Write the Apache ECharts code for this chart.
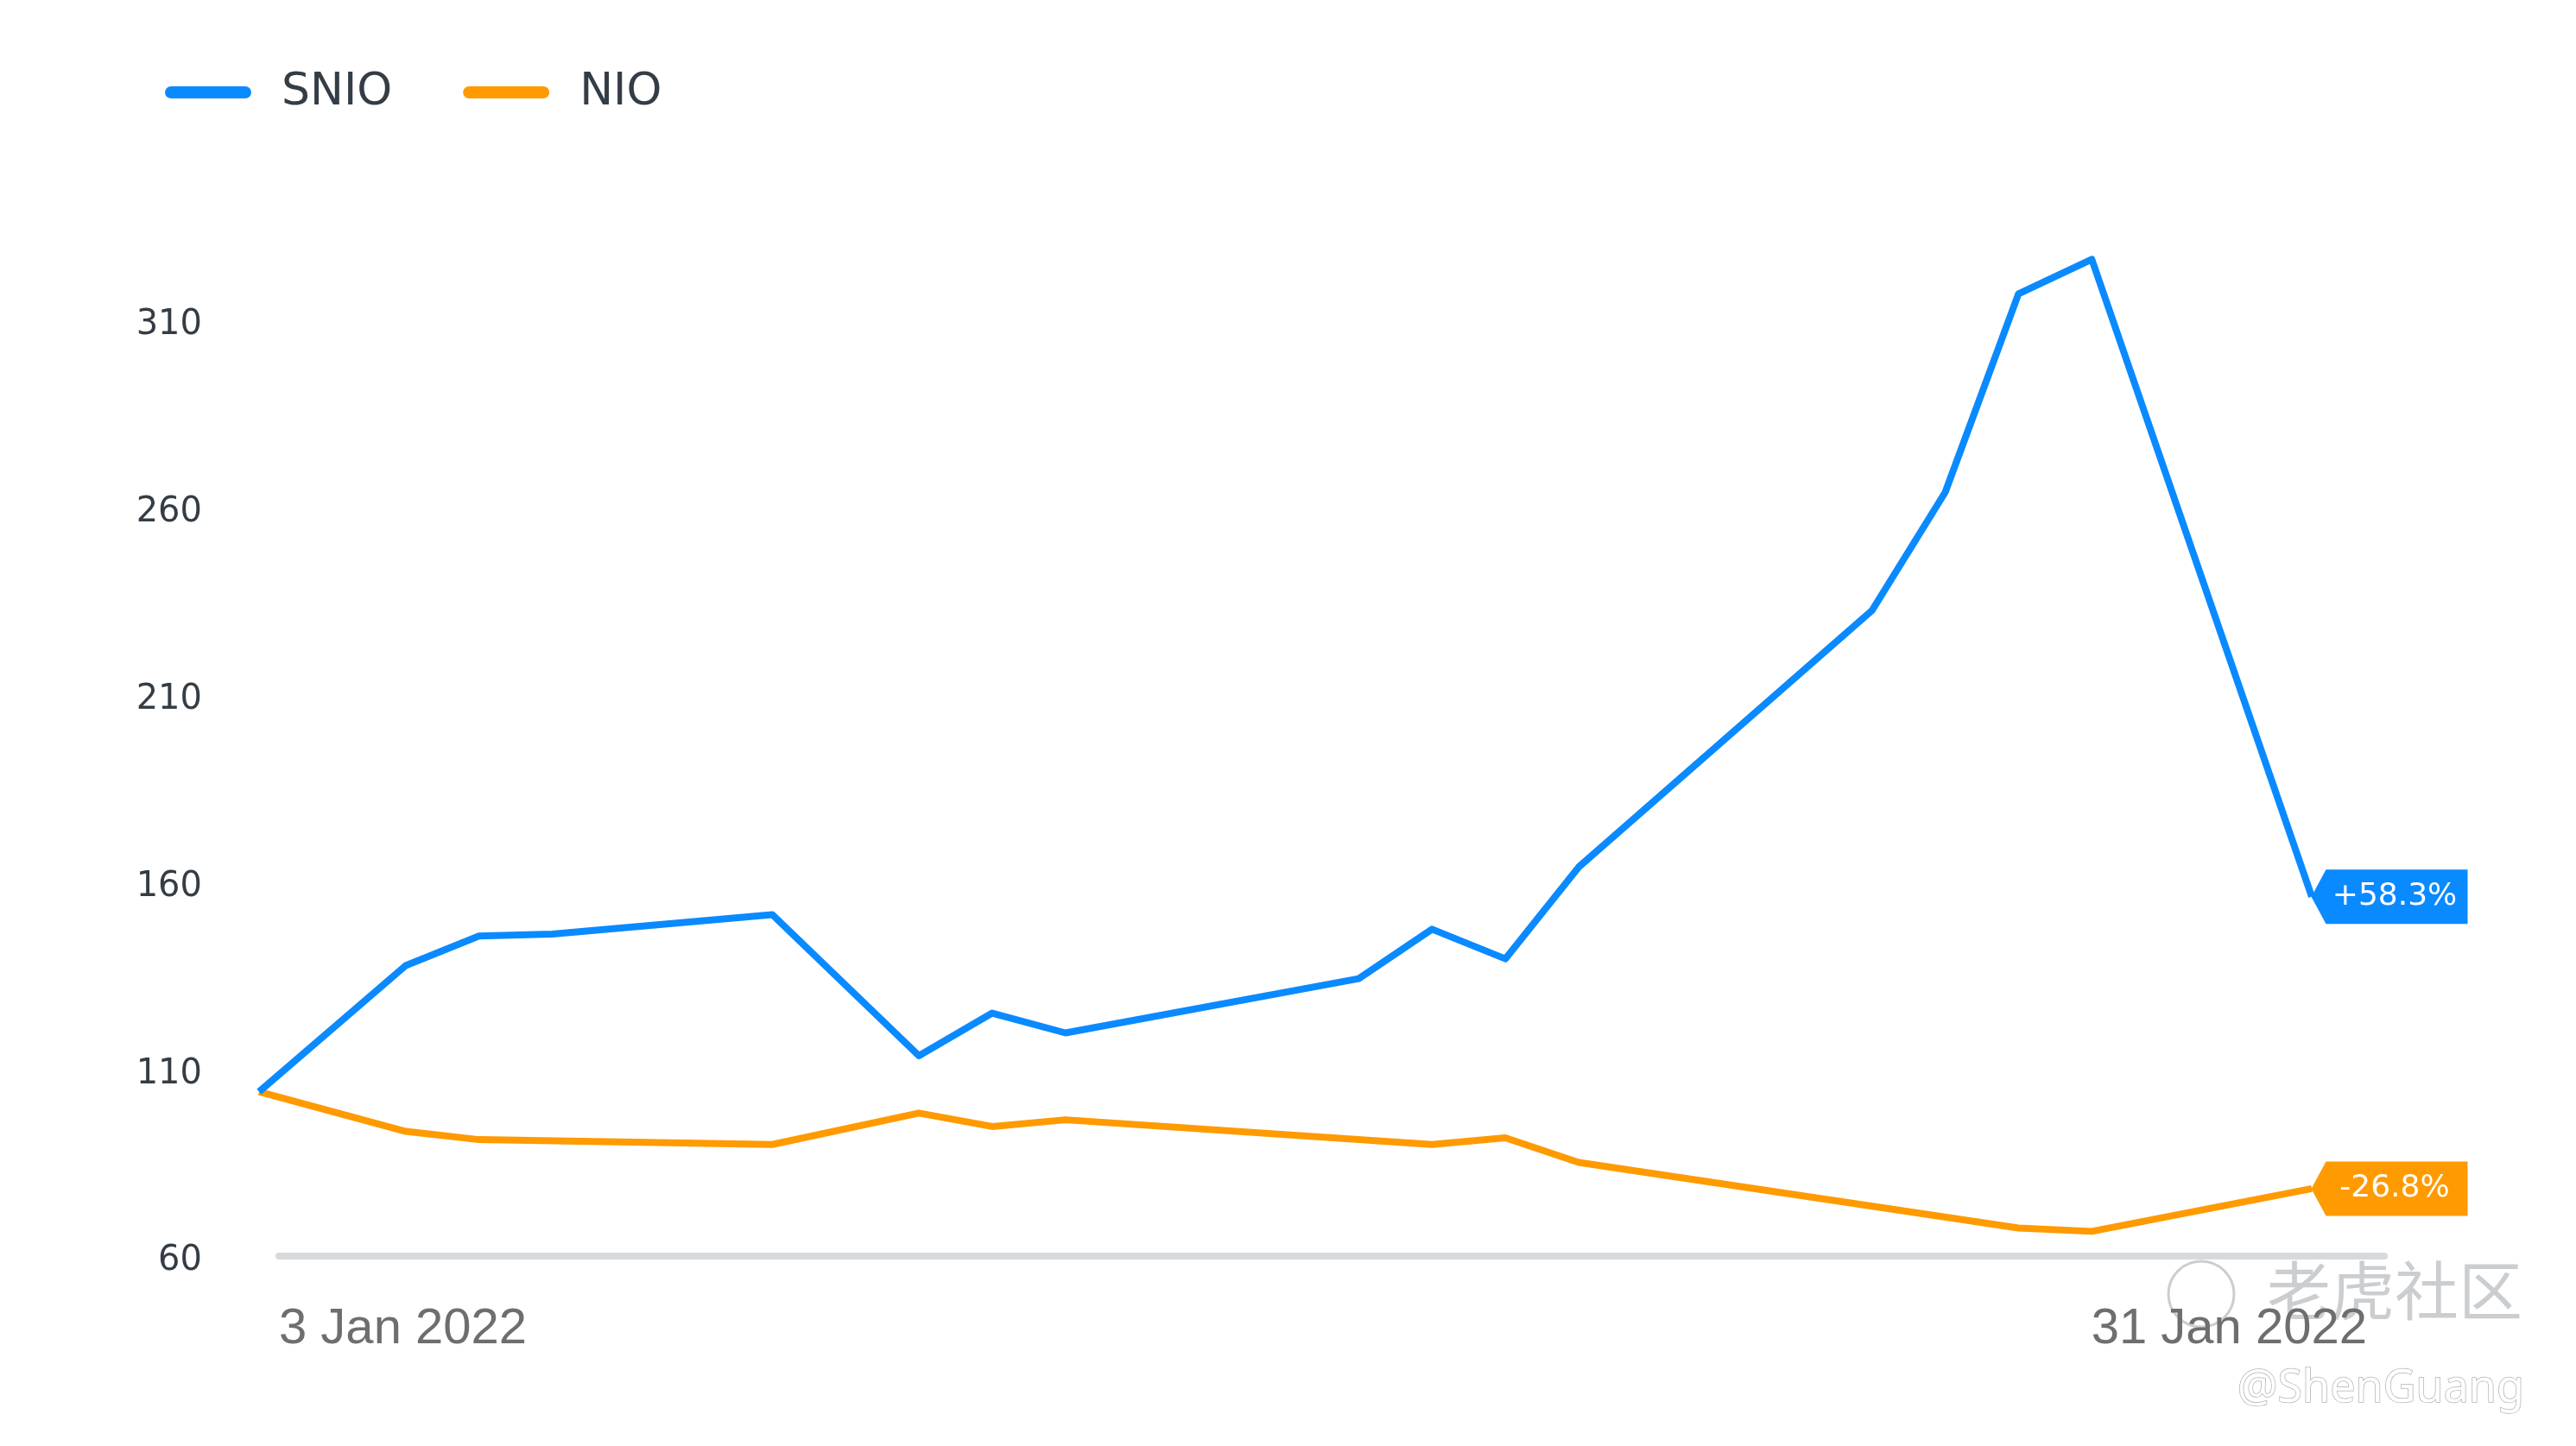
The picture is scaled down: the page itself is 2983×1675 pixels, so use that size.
<!DOCTYPE html>
<html>
<head>
<meta charset="utf-8">
<script src="https://cdn.jsdelivr.net/npm/echarts@6/dist/echarts.min.js"></script>
<style>
  html, body { margin: 0; padding: 0; background: #fff; }
  #chart { width: 2983px; height: 1675px; }
</style>
</head>
<body>
<div id="chart"></div>
<script>
// trading days that show a visible vertex on either line
var dates = ['2022-01-03', '2022-01-05', '2022-01-06', '2022-01-07', '2022-01-10',
  '2022-01-12', '2022-01-13', '2022-01-14', '2022-01-18', '2022-01-19',
  '2022-01-20', '2022-01-21', '2022-01-25', '2022-01-26', '2022-01-27',
  '2022-01-28', '2022-01-31'];
var snio = [103.9, 137.6, 145.5, 146, 151.2, 113.5, 124.9, 119.6, 134.1, 147.3,
  139.4, 163.9, 232.4, 264, 317, 326.2, 156];
var nio = [103.9, 93.3, 91.1, null, 89.8, 98.2, 94.6, 96.4, null, 89.8,
  91.6, 85.0, null, null, 67.5, 66.6, 78.0];
var seriesNames = ['SNIO', 'NIO'];
var endLabels = ['+58.3%', '-26.8%'];
var xTickLabels = ['3 Jan 2022', '31 Jan 2022'];

var colors = ['#0a8aff', '#ff9a00'];
var tagPath = 'path://M0,31.5 L17,0 L181,0 L181,63 L17,63 Z';
var pillPath = 'path://M7,0 L93,0 A7,7 0 0 1 93,14 L7,14 A7,7 0 0 1 7,0 Z';

function pairs(values) {
  return dates.map(function (d, i) { return [d, values[i]]; });
}

function makeSeries(i, values) {
  var last = values[values.length - 1];
  return {
    name: seriesNames[i],
    type: 'line',
    xAxisIndex: 0,
    yAxisIndex: 0,
    data: pairs(values),
    connectNulls: true,
    symbol: 'none',
    clip: false,
    lineStyle: { color: colors[i], width: 8, join: 'round' },
    itemStyle: { color: colors[i] },
    z: 3 - i,
    markPoint: {
      symbol: tagPath,
      symbolSize: [181, 63],
      symbolKeepAspect: false,
      symbolOffset: [90, 0],
      itemStyle: { color: colors[i] },
      label: {
        show: true,
        position: 'inside',
        offset: [6, 0],
        formatter: endLabels[i],
        color: '#fff',
        fontFamily: 'DejaVu Sans',
        fontSize: 36
      },
      data: [{ coord: [dates[dates.length - 1], last] }]
    }
  };
}

var chart = echarts.init(document.getElementById('chart'));
chart.setOption({
  backgroundColor: '#fff',
  animation: false,
  color: colors,
  legend: {
    left: 186,
    top: 76,
    itemWidth: 100,
    itemHeight: 14,
    itemGap: 82,
    icon: pillPath,
    textStyle: {
      fontFamily: 'DejaVu Sans',
      fontSize: 52,
      color: '#343d46',
      padding: [0, 0, 0, 30]
    },
    data: seriesNames
  },
  grid: [
    { left: 300, right: 306, top: 284, bottom: 220 },
    { left: 323, right: 222, top: 284, bottom: 220 }
  ],
  xAxis: [
    {
      type: 'time',
      gridIndex: 0,
      min: dates[0],
      max: dates[dates.length - 1],
      axisLine: { show: false },
      axisTick: { show: false },
      axisLabel: { show: false },
      splitLine: { show: false }
    },
    {
      type: 'category',
      gridIndex: 1,
      data: xTickLabels,
      boundaryGap: false,
      axisLine: { lineStyle: { color: '#d6dadd', width: 8, cap: 'round' } },
      axisTick: { show: false },
      axisLabel: {
        margin: 56,
        fontFamily: 'Liberation Sans',
        fontSize: 58,
        color: '#6e6e6e',
        alignMinLabel: 'left',
        alignMaxLabel: 'right',
        padding: [0, 20, 0, 0]
      }
    }
  ],
  yAxis: [
    {
      type: 'value',
      gridIndex: 0,
      min: 60,
      max: 330,
      interval: 50,
      axisLine: { show: false },
      axisTick: { show: false },
      splitLine: { show: false },
      axisLabel: {
        showMaxLabel: false,
        margin: 66,
        formatter: '{v|{value}}',
        rich: {
          v: {
            padding: [12, 0, 0, 0],
            fontFamily: 'DejaVu Sans',
            fontSize: 40,
            color: '#343d46'
          }
        }
      }
    },
    {
      type: 'value',
      gridIndex: 1,
      min: 60,
      max: 330,
      show: false
    }
  ],
  series: [makeSeries(0, snio), makeSeries(1, nio)],
  graphic: [
    {
      type: 'circle',
      shape: { cx: 2549, cy: 1499, r: 38 },
      style: { fill: 'none', stroke: 'rgba(160,165,172,0.55)', lineWidth: 3 },
      silent: true
    },
    {
      type: 'text',
      left: 2625,
      top: 1458,
      style: {
        text: '老虎社区',
        font: '74px "Noto Sans CJK SC"',
        fill: 'rgba(160,165,172,0.55)'
      },
      silent: true
    },
    {
      type: 'text',
      left: 2590,
      top: 1582,
      style: {
        text: '@ShenGuang',
        font: '52px "Noto Sans"',
        fill: '#fff',
        stroke: 'rgba(170,170,170,0.9)',
        lineWidth: 1.5
      },
      silent: true
    }
  ]
});
</script>
</body>
</html>
